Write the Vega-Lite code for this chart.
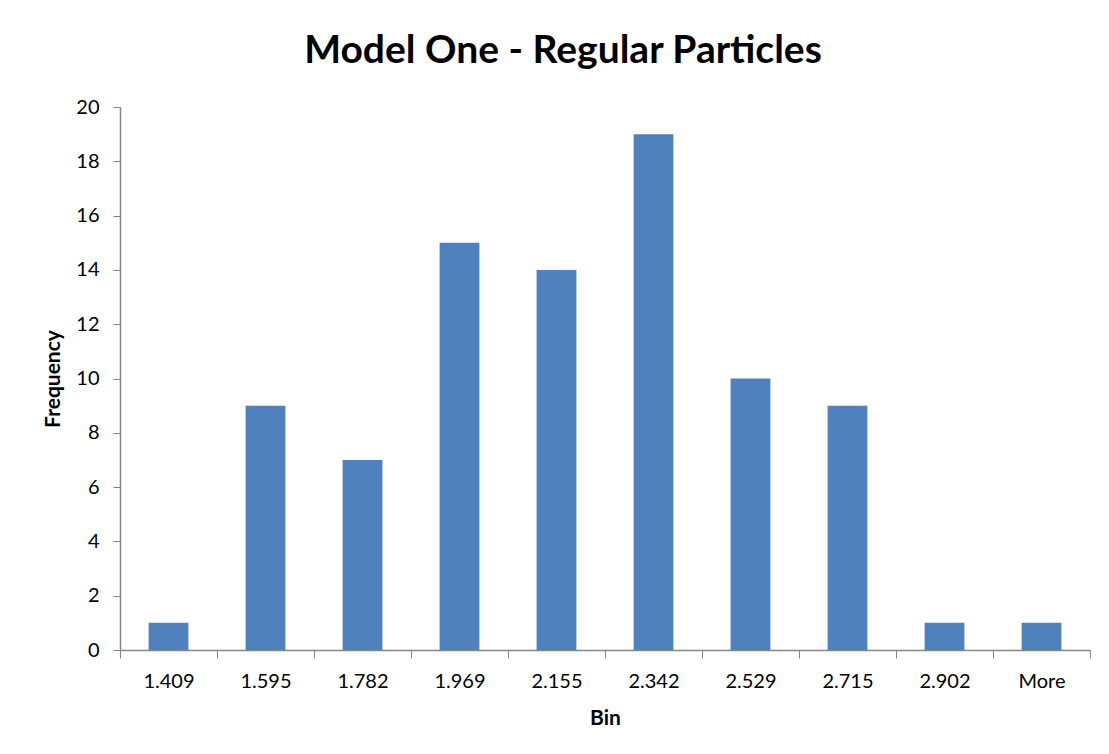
{
  "$schema": "https://vega.github.io/schema/vega-lite/v6.json",
  "autosize": "none",
  "width": 970,
  "height": 543,
  "padding": {"left": 120, "top": 107, "right": 19, "bottom": 104},
  "background": "white",
  "title": {
    "text": "Model One - Regular Particles",
    "font": "Lato",
    "fontSize": 39,
    "fontWeight": "bold",
    "color": "#000000",
    "anchor": "middle",
    "dx": -42,
    "offset": 26
  },
  "data": {
    "values": [
      {"bin": "1.409", "freq": 1},
      {"bin": "1.595", "freq": 9},
      {"bin": "1.782", "freq": 7},
      {"bin": "1.969", "freq": 15},
      {"bin": "2.155", "freq": 14},
      {"bin": "2.342", "freq": 19},
      {"bin": "2.529", "freq": 10},
      {"bin": "2.715", "freq": 9},
      {"bin": "2.902", "freq": 1},
      {"bin": "More", "freq": 1}
    ]
  },
  "mark": {"type": "bar", "color": "#4F81BD", "width": {"band": 0.41}},
  "encoding": {
    "x": {
      "field": "bin",
      "type": "nominal",
      "sort": null,
      "scale": {"paddingInner": 0, "paddingOuter": 0},
      "axis": {
        "title": "Bin",
        "titleFont": "Lato",
        "titleFontSize": 21,
        "titleFontWeight": "bold",
        "titleColor": "#000000",
        "titlePadding": 16,
        "labelAngle": 0,
        "labelFont": "Lato",
        "labelFontSize": 20,
        "labelColor": "#000000",
        "labelPadding": 13,
        "tickBand": "extent",
        "tickSize": 8,
        "tickColor": "#868686",
        "domainColor": "#868686",
        "domainWidth": 1.5,
        "grid": false
      }
    },
    "y": {
      "field": "freq",
      "type": "quantitative",
      "scale": {"domain": [0, 20], "nice": false},
      "axis": {
        "title": "Frequency",
        "titleFont": "Lato",
        "titleFontSize": 21,
        "titleFontWeight": "bold",
        "titleColor": "#000000",
        "titlePadding": 12,
        "values": [0, 2, 4, 6, 8, 10, 12, 14, 16, 18, 20],
        "labelFont": "Lato",
        "labelFontSize": 20,
        "labelColor": "#000000",
        "labelPadding": 14,
        "tickSize": 7,
        "tickColor": "#868686",
        "domainColor": "#868686",
        "domainWidth": 1.5,
        "grid": false
      }
    }
  },
  "config": {"view": {"stroke": null}}
}
